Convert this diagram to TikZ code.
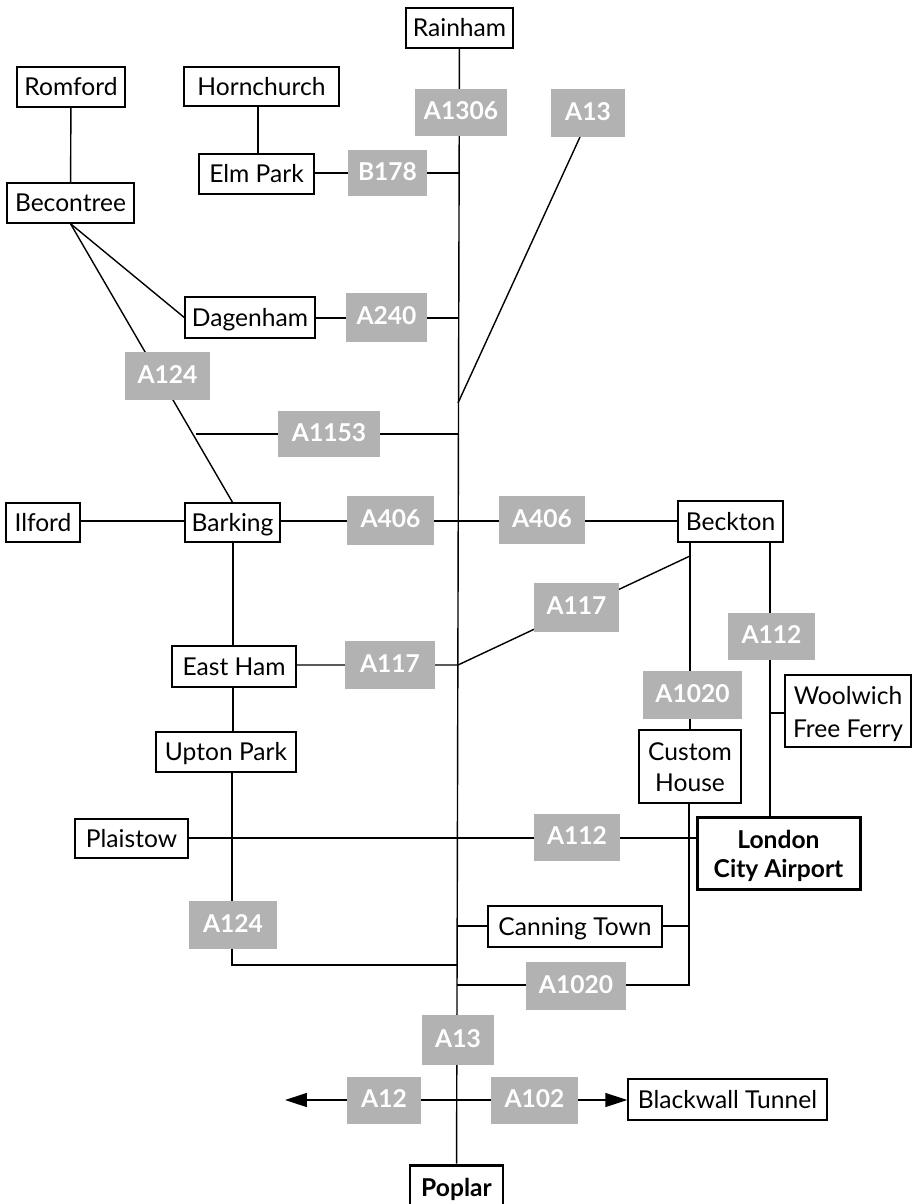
\documentclass[tikz,border=0pt]{standalone}
\usepackage{fontspec}
\setmainfont{Lato}
\usetikzlibrary{arrows.meta,backgrounds}
\definecolor{roadgrey}{gray}{0.70}
\tikzset{
    wh/.style 2 args={minimum width=#1*0.02cm, minimum height=#2*0.02cm},
    twolines/.style={draw, fill=white, line width=0.8pt, inner sep=0pt, align=center,
        font=\fontsize{14}{18.7}\selectfont},
    place/.style={twolines, text height=10pt, text depth=0pt},
    mainplace/.style={place, line width=1.7pt, font=\fontsize{14}{16.5}\selectfont\bfseries},
    mainlines/.style={twolines, line width=1.7pt, font=\fontsize{14}{16.5}\selectfont\bfseries},
    road/.style={fill=roadgrey, text=white, inner sep=0pt, text height=10pt, text depth=1.5pt,
        font=\fontsize{14}{16}\selectfont\bfseries},
    link/.style={line width=0.8pt},
    bigtip/.style={{Stealth[length=0.44cm, width=0.28cm, inset=0pt]}-{Stealth[length=0.44cm, width=0.28cm, inset=0pt]}}
}
\begin{document}
\begin{tikzpicture}[x=0.02cm, y=-0.02cm]
    \path[use as bounding box, clip] (0,0) rectangle (915,1204);

    % Places
    \node[place, wh={107}{40}] (rainham) at (459.5,28) {Rainham};
    \node[place, wh={108}{40}] (romford) at (71,87) {Romford};
    \node[place, wh={155}{39}] (hornchurch) at (261.5,86.5) {Hornchurch};
    \node[place, wh={115}{40}] (elmpark) at (256.5,174) {Elm Park};
    \node[place, wh={127}{40}] (becontree) at (70.5,203) {Becontree};
    \node[place, wh={130}{41}] (dagenham) at (250,317.5) {Dagenham};
    \node[place, wh={74}{39}] (ilford) at (43,522.5) {Ilford};
    \node[place, wh={95}{39}] (barking) at (232.5,522.5) {Barking};
    \node[place, wh={105}{41}] (beckton) at (730.5,521.5) {Beckton};
    \node[place, wh={124}{41}] (eastham) at (234,666.5) {East Ham};
    \node[place, wh={140}{40}] (upton) at (226,752) {Upton Park};
    \node[twolines, wh={126}{72}] (woolwich) at (848,711) {\rule{0pt}{14pt}Woolwich\\Free Ferry};
    \node[twolines, wh={102}{73}] (custom) at (690,766.5) {\rule{0pt}{11pt}Custom\\[-1.5pt]House};
    \node[place, wh={113}{39}] (plaistow) at (131.5,838.5) {Plaistow};
    \node[place, wh={174}{41}] (canning) at (575,926.5) {Canning Town};
    \node[place, wh={199}{41}] (blackwall) at (727.5,1099.5) {Blackwall Tunnel};
    \node[mainlines, wh={163}{72}] (airport) at (778.5,853) {\rule{0pt}{14pt}London\\City Airport};
    \node[mainplace, wh={93}{46}] (poplar) at (456.5,1188) {Poplar};

    % Road numbers
    \node[road, wh={92}{47}] (a1306) at (461,112.5) {A1306};
    \node[road, wh={74}{48}] (a13top) at (588,113) {A13};
    \node[road, wh={79}{46}] (b178) at (387.5,173) {B178};
    \node[road, wh={81}{49}] (a240) at (386.5,317.5) {A240};
    \node[road, wh={85}{48}] (a124top) at (167.5,376) {A124};
    \node[road, wh={102}{46}] (a1153) at (329,434) {A1153};
    \node[road, wh={87}{49}] (a406left) at (390.5,520.5) {A406};
    \node[road, wh={86}{48}] (a406right) at (542,520) {A406};
    \node[road, wh={85}{49}] (a117right) at (576.5,607.5) {A117};
    \node[road, wh={90}{48}] (a117left) at (390,665) {A117};
    \node[road, wh={87}{47}] (a112top) at (771.5,636.5) {A112};
    \node[road, wh={99}{48}] (a1020top) at (692.5,695) {A1020};
    \node[road, wh={86}{47}] (a112low) at (577,837.5) {A112};
    \node[road, wh={88}{48}] (a124low) at (233,925) {A124};
    \node[road, wh={100}{48}] (a1020low) at (576,986) {A1020};
    \node[road, wh={72}{50}] (a13low) at (458,1040) {A13};
    \node[road, wh={74}{47}] (a12) at (384,1100.5) {A12};
    \node[road, wh={87}{47}] (a102) at (534.5,1100.5) {A102};

    % Junctions
    \coordinate (jb178) at (458.5,173);
    \coordinate (ja240) at (458.5,318);
    \coordinate (a13foot) at (580,137);
    \coordinate (ja13) at (458,403);
    \coordinate (ja1153) at (458,434);
    \coordinate (ja124mid) at (196,434);
    \coordinate (ja406) at (458,521);
    \coordinate (ja117) at (458,665);
    \coordinate (jbeckleft) at (690,556);
    \coordinate (beckleft) at (690,542);
    \coordinate (beckright) at (770,542);
    \coordinate (airporttop) at (770,817);
    \coordinate (jwoolwich) at (770,713);
    \coordinate (uptontop) at (233,732);
    \coordinate (uptonfoot) at (232,772);
    \coordinate (corner124) at (232,965);
    \coordinate (ja124) at (457,965);
    \coordinate (ja112) at (457.5,838);
    \coordinate (jcanleft) at (457.5,926);
    \coordinate (jcanright) at (689,926);
    \coordinate (corner1020) at (689,985);
    \coordinate (ja1020) at (457,985);
    \coordinate (a12end) at (285,1100);

    % Connectors under the nodes
    \begin{scope}[on background layer]
        \draw[link] (rainham) -- (poplar);
        \draw[link] (romford) -- (becontree);
        \draw[link] (elmpark.north) ++(1.5,0) -- ++(0,-48);
        \draw[link] (elmpark.east |- jb178) -- (jb178);
        \draw[link] (dagenham.east |- ja240) -- (ja240);
        \draw[link] (a13foot) -- (ja13);
        \draw[link] (becontree.south) -- (dagenham.west);
        \draw[link] (becontree.south) -- (barking.north);
        \draw[link] (ja124mid) -- (ja1153);
        \draw[link] (ilford.east |- ja406) -- (beckton.west |- ja406);
        \draw[link] (uptontop |- barking.south) -- (uptontop);
        \draw[link] (eastham.east |- ja117) -- (ja117) -- (jbeckleft);
        \draw[link] (beckleft) -- (custom);
        \draw[link] (corner1020 |- custom.south) -- (corner1020) -- (ja1020);
        \draw[link] (beckright) -- (airporttop);
        \draw[link] (woolwich.west |- jwoolwich) -- (jwoolwich);
        \draw[link] (plaistow.east |- ja112) -- (airport.west |- ja112);
        \draw[link] (uptonfoot) -- (corner124) -- (ja124);
        \draw[link] (jcanleft) -- (jcanright);
        \draw[link, bigtip] (a12end) -- (blackwall.west |- a12end);
    \end{scope}
\end{tikzpicture}
\end{document}
